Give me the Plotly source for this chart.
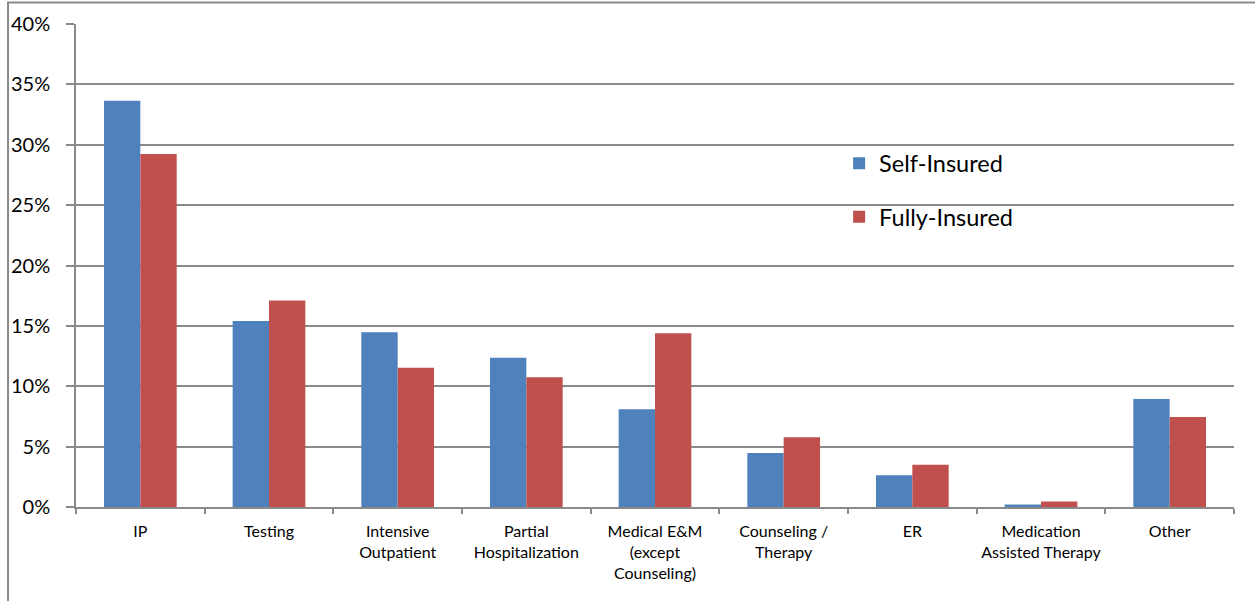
import plotly.graph_objects as go

categories = [
    "IP",
    "Testing",
    "Intensive<br>Outpatient",
    "Partial<br>Hospitalization",
    "Medical E&M<br>(except<br>Counseling)",
    "Counseling /<br>Therapy",
    "ER",
    "Medication<br>Assisted Therapy",
    "Other",
]
self_insured = [0.3365, 0.154, 0.1447, 0.1237, 0.0809, 0.0447, 0.0262, 0.002, 0.0894]
fully_insured = [0.2923, 0.171, 0.1154, 0.1074, 0.1438, 0.0577, 0.035, 0.0045, 0.0745]
y_ticks = [0, 0.05, 0.10, 0.15, 0.20, 0.25, 0.30, 0.35, 0.40]
y_tick_text = ["0%", "5%", "10%", "15%", "20%", "25%", "30%", "35%", "40%"]

FONT = "Lato, 'Open Sans', sans-serif"
GRID = "#8a8a8a"

fig = go.Figure()
fig.add_trace(go.Bar(
    x=categories, y=self_insured, name="Self-Insured",
    marker=dict(color="#4F81BD", line=dict(width=0)),
    legendgroup="a",
))
fig.add_trace(go.Bar(
    x=categories, y=fully_insured, name="Fully-Insured",
    marker=dict(color="#C0504D", line=dict(width=0)),
    legendgroup="b",
))

fig.update_layout(
    width=1255, height=601,
    margin=dict(l=76, r=21, t=24, b=94),
    paper_bgcolor="white", plot_bgcolor="white",
    barmode="group", bargap=0.435, bargroupgap=0,
    font=dict(family=FONT, color="#000000"),
    legend=dict(
        x=0.659, y=0.757, xanchor="left", yanchor="top",
        font=dict(size=23.5, family=FONT),
        tracegroupgap=20, bgcolor="rgba(0,0,0,0)",
        itemwidth=30,
    ),
    showlegend=True,
)

fig.update_yaxes(
    range=[0, 0.40], tickvals=y_ticks, ticktext=y_tick_text,
    showgrid=True, gridcolor=GRID, gridwidth=1.5,
    showline=True, linecolor=GRID, linewidth=1.5,
    ticks="outside", ticklen=8, tickcolor=GRID, tickwidth=1.5,
    tickfont=dict(size=20, family=FONT),
    ticklabelstandoff=12,
    zeroline=False,
)
fig.update_xaxes(
    showline=True, linecolor=GRID, linewidth=1.5,
    ticks="outside", tickson="boundaries", ticklen=5, tickcolor=GRID, tickwidth=1.5,
    tickfont=dict(size=16, family=FONT),
    ticklabelstandoff=9,
    tickangle=0,
)

# Outer chart frame
fig.add_shape(
    type="rect", xref="paper", yref="paper",
    x0=-0.0587, x1=1.1, y0=-0.3, y1=1.0445,
    line=dict(color=GRID, width=2), fillcolor="rgba(0,0,0,0)", layer="below",
)

fig.write_html("out.html")
